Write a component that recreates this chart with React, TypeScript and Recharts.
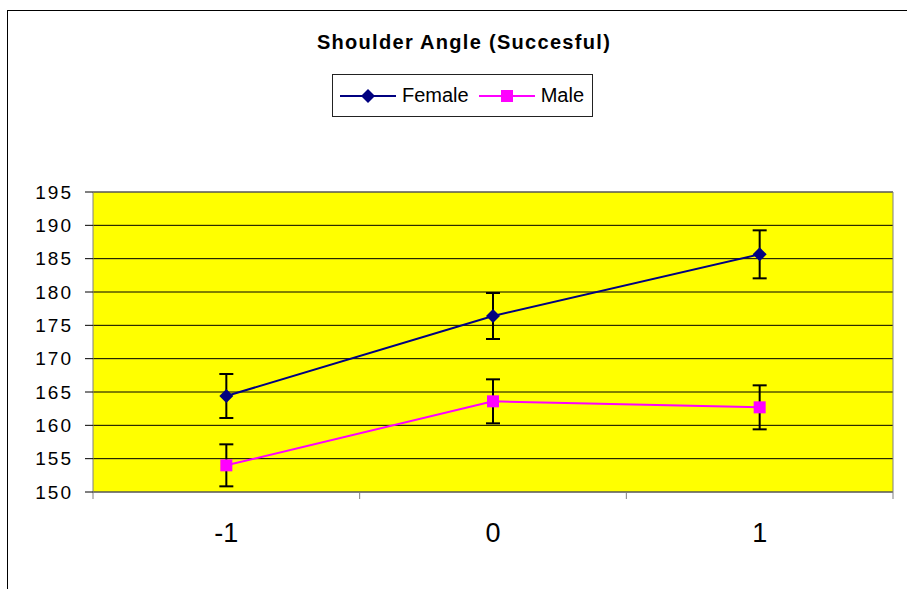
import React from "react";
import {
  LineChart,
  Line,
  XAxis,
  YAxis,
  CartesianGrid,
  ErrorBar,
  Legend,
  ReferenceLine,
} from "recharts";

const categories = ["-1", "0", "1"];
const positions = [-1, 0, 1];
const femaleMean = [164.4, 176.4, 185.65];
const femaleErr = [3.3, 3.45, 3.6];
const maleMean = [154.0, 163.6, 162.7];
const maleErr = [3.15, 3.3, 3.3];
const yTicks = [150, 155, 160, 165, 170, 175, 180, 185, 190, 195];
const edgeTicks = [-1.5, -0.5, 0.5, 1.5];

const NAVY = "#000080";
const MAGENTA = "#FF00FF";
const FONT = "'Liberation Sans', Arial, sans-serif";

const data = categories.map((name, i) => ({
  name,
  pos: positions[i],
  female: femaleMean[i],
  femaleErr: femaleErr[i],
  male: maleMean[i],
  maleErr: maleErr[i],
}));

function Diamond({ cx, cy }: any) {
  if (cx == null || cy == null) return null;
  const r = 7;
  return <polygon points={`${cx},${cy - r} ${cx + r},${cy} ${cx},${cy + r} ${cx - r},${cy}`} fill={NAVY} />;
}

function Square({ cx, cy }: any) {
  if (cx == null || cy == null) return null;
  return <rect x={cx - 6} y={cy - 6} width={12} height={12} fill={MAGENTA} />;
}

// the numeric axis only draws the tick marks between categories
const NoLabel = () => <g />;

function LegendBox() {
  return (
    <div
      style={{
        width: 259,
        height: 41,
        border: "1px solid #222",
        background: "#fff",
        display: "flex",
        alignItems: "center",
        fontFamily: FONT,
        fontSize: 20,
        color: "#000",
      }}
    >
      <svg width={56} height={14} style={{ marginLeft: 7 }}>
        <line x1={0} y1={7} x2={56} y2={7} stroke={NAVY} strokeWidth={2} />
        <polygon points="28,0 35,7 28,14 21,7" fill={NAVY} />
      </svg>
      <span style={{ marginLeft: 6 }}>Female</span>
      <svg width={56} height={14} style={{ marginLeft: 10 }}>
        <line x1={0} y1={7} x2={56} y2={7} stroke={MAGENTA} strokeWidth={2} />
        <rect x={22} y={1} width={12} height={12} fill={MAGENTA} />
      </svg>
      <span style={{ marginLeft: 6 }}>Male</span>
    </div>
  );
}

export default function App() {
  return (
    <div
      style={{
        position: "fixed",
        left: 0,
        top: 0,
        width: 907,
        height: 589,
        overflow: "hidden",
        background: "#fff",
        fontFamily: FONT,
      }}
    >
      <div
        style={{
          position: "absolute",
          left: 7,
          top: 10,
          width: 1000,
          height: 1000,
          borderLeft: "1px solid #000",
          borderTop: "1px solid #000",
        }}
      />
      <div
        style={{
          position: "absolute",
          left: 264,
          width: 400,
          top: 31,
          textAlign: "center",
          fontSize: 20,
          fontWeight: "bold",
          letterSpacing: 1.3,
          color: "#000",
        }}
      >
        Shoulder Angle (Succesful)
      </div>
      <div style={{ position: "absolute", left: 0, top: 0 }}>
        <LineChart width={907} height={589} data={data} margin={{ top: 192, right: 14, bottom: 37, left: 0 }}>
          <CartesianGrid vertical={false} stroke="#000" fill="#FFFF00" fillOpacity={1} />
          <XAxis
            dataKey="pos"
            type="number"
            domain={[-1.5, 1.5]}
            ticks={edgeTicks}
            tick={<NoLabel />}
            tickSize={7}
            tickLine={{ stroke: "#808080" }}
            axisLine={false}
            height={1}
          />
          <XAxis
            xAxisId="cats"
            dataKey="name"
            scale="band"
            height={59}
            tickLine={false}
            tickSize={0}
            tickMargin={30}
            axisLine={false}
            tick={{ fill: "#000", fontSize: 27, fontFamily: FONT }}
          />
          <YAxis
            width={93}
            domain={[150, 195]}
            ticks={yTicks}
            interval={0}
            tickSize={8}
            tickMargin={12}
            tickLine={{ stroke: "#000" }}
            axisLine={{ stroke: "#808080" }}
            tick={{ fill: "#000", fontSize: 19, fontFamily: FONT, letterSpacing: 2 }}
          />
          <ReferenceLine y={195} stroke="#808080" />
          <ReferenceLine y={150} stroke="#808080" />
          <ReferenceLine x={1.5} stroke="#808080" />
          <Legend
            content={<LegendBox />}
            layout="horizontal"
            verticalAlign="middle"
            align="center"
            wrapperStyle={{ position: "absolute", left: 332, top: 74, width: "auto" }}
          />
          <Line
            dataKey="female"
            stroke={NAVY}
            strokeWidth={2}
            dot={<Diamond />}
            activeDot={false}
            isAnimationActive={false}
          >
            <ErrorBar dataKey="femaleErr" direction="y" width={7} stroke="#000" strokeWidth={2} />
          </Line>
          <Line
            dataKey="male"
            stroke={MAGENTA}
            strokeWidth={2}
            dot={<Square />}
            activeDot={false}
            isAnimationActive={false}
          >
            <ErrorBar dataKey="maleErr" direction="y" width={7} stroke="#000" strokeWidth={2} />
          </Line>
        </LineChart>
      </div>
    </div>
  );
}
